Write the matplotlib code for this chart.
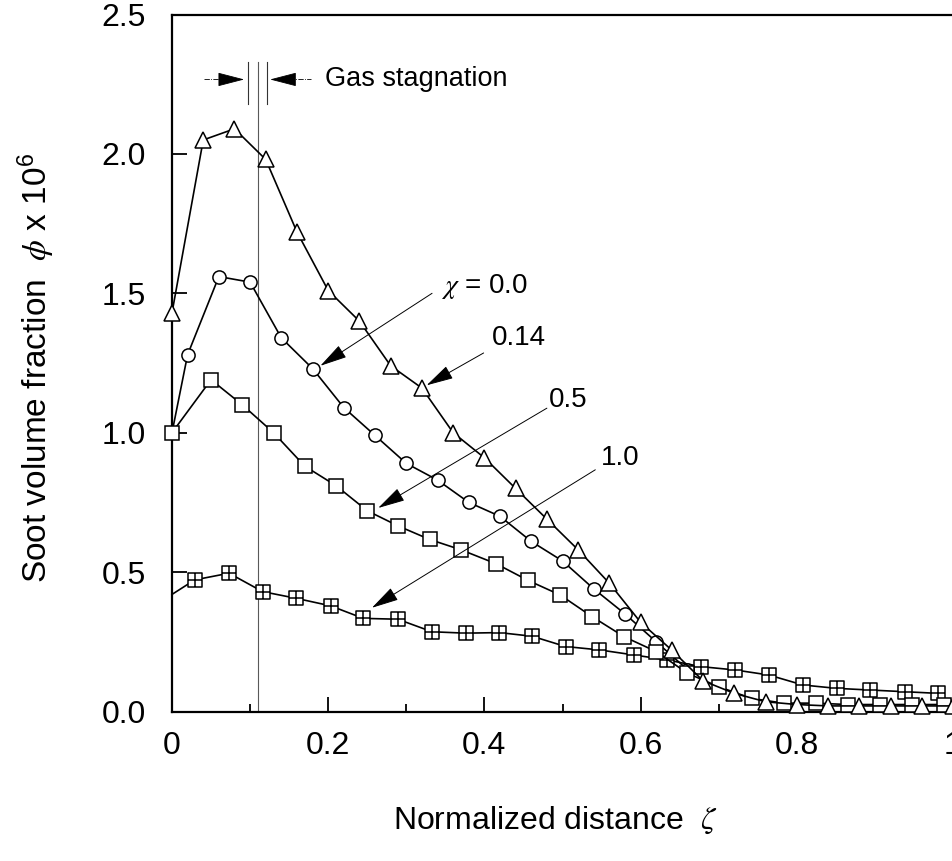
import matplotlib
matplotlib.use("Agg")
import matplotlib.pyplot as plt
from matplotlib.path import Path
from matplotlib.patches import FancyArrowPatch

plt.rcParams['font.family'] = ['Liberation Sans', 'DejaVu Sans']
plt.rcParams['mathtext.fontset'] = 'custom'
plt.rcParams['mathtext.rm'] = 'Liberation Sans'
plt.rcParams['mathtext.it'] = 'STIXGeneral:italic'

# soot volume fraction profiles (phi x 1e6) vs normalized distance zeta
# chi = 0.0 (circles)
x_chi00 = [0.00, 0.02, 0.06, 0.10, 0.14, 0.18, 0.22, 0.26, 0.30, 0.34, 0.38, 0.42, 0.46,
           0.50, 0.54, 0.58, 0.62, 0.66]
y_chi00 = [1.00, 1.28, 1.56, 1.54, 1.34, 1.23, 1.09, 0.99, 0.89, 0.83, 0.75, 0.70, 0.61,
           0.54, 0.44, 0.35, 0.25, 0.15]

# chi = 0.14 (triangles)
x_chi014 = [0.00, 0.04, 0.08, 0.12, 0.16, 0.20, 0.24, 0.28, 0.32, 0.36, 0.40, 0.44, 0.48,
            0.52, 0.56, 0.60, 0.64, 0.68, 0.72, 0.76, 0.80, 0.84, 0.88, 0.92, 0.96, 1.00]
y_chi014 = [1.43, 2.05, 2.09, 1.98, 1.72, 1.51, 1.40, 1.24, 1.16, 1.00, 0.91, 0.80, 0.69,
            0.58, 0.46, 0.32, 0.22, 0.11, 0.065, 0.035, 0.025, 0.02, 0.02, 0.02, 0.02, 0.02]

# chi = 0.5 (open squares)
x_chi05 = [0.00, 0.05, 0.09, 0.13, 0.17, 0.21, 0.25, 0.29, 0.33, 0.37, 0.415, 0.456, 0.497,
           0.538, 0.579, 0.62, 0.66, 0.70, 0.742, 0.783, 0.824, 0.865, 0.906, 0.947, 0.988]
y_chi05 = [1.00, 1.19, 1.10, 1.00, 0.88, 0.81, 0.72, 0.665, 0.617, 0.58, 0.53, 0.47, 0.418,
           0.34, 0.268, 0.215, 0.137, 0.089, 0.047, 0.03, 0.03, 0.025, 0.025, 0.025, 0.025]

# chi = 1.0 (crossed squares)
x_chi10 = [0.00, 0.029, 0.073, 0.116, 0.159, 0.203, 0.245, 0.289, 0.333, 0.376, 0.419, 0.461,
           0.504, 0.547, 0.591, 0.634, 0.677, 0.721, 0.764, 0.808, 0.851, 0.894, 0.938, 0.981]
y_chi10 = [0.42, 0.472, 0.496, 0.43, 0.406, 0.379, 0.334, 0.331, 0.286, 0.281, 0.283, 0.27,
           0.233, 0.221, 0.203, 0.185, 0.161, 0.149, 0.131, 0.095, 0.083, 0.077, 0.071, 0.065]

x_ticks = [0, 0.2, 0.4, 0.6, 0.8, 1.0]
x_ticklabels = ['0', '0.2', '0.4', '0.6', '0.8', '1']
y_ticks = [0.0, 0.5, 1.0, 1.5, 2.0, 2.5]
y_ticklabels = ['0.0', '0.5', '1.0', '1.5', '2.0', '2.5']

zeta_stag = 0.11  # gas stagnation plane

# square with a cross inside
crossed_square = Path(
    [(-1, -1), (1, -1), (1, 1), (-1, 1), (-1, -1), (0, -1), (0, 1), (-1, 0), (1, 0)],
    [Path.MOVETO, Path.LINETO, Path.LINETO, Path.LINETO, Path.CLOSEPOLY,
     Path.MOVETO, Path.LINETO, Path.MOVETO, Path.LINETO])

fig = plt.figure(figsize=(9.52, 8.61), dpi=100)
ax = fig.add_axes([172 / 952, 1 - 711.5 / 861, 781 / 952, 697 / 861])

common = dict(color='black', lw=1.2, mfc='white', mec='black', mew=1.1, clip_on=False)
ax.plot(x_chi10, y_chi10, marker=crossed_square, ms=9.5, markevery=slice(1, None), zorder=3, **common)
ax.plot(x_chi00, y_chi00, marker='o', ms=9.5, markevery=slice(1, None), zorder=4, **common)
ax.plot(x_chi05, y_chi05, marker='s', ms=10.5, zorder=5, **common)
ax.plot(x_chi014, y_chi014, marker='^', ms=12, zorder=6, **common)

ax.set_xlim(0, 1)
ax.set_ylim(0, 2.5)
ax.set_xticks(x_ticks)
ax.set_xticklabels(x_ticklabels)
ax.set_xticks([0.1, 0.3, 0.5, 0.7, 0.9], minor=True)
ax.set_yticks(y_ticks)
ax.set_yticklabels(y_ticklabels)
ax.tick_params(which='major', direction='in', length=11, width=1.3, labelsize=23)
ax.tick_params(which='minor', direction='in', length=6, width=1.3)
ax.tick_params(axis='x', pad=14)
ax.tick_params(axis='y', pad=19)
for s in ax.spines.values():
    s.set_linewidth(1.6)
ax.spines['right'].set_visible(False)

# gas stagnation marker
ax.plot([zeta_stag, zeta_stag], [0, 2.33], color='0.35', lw=0.8, zorder=1)
for xs in (zeta_stag - 0.013, zeta_stag + 0.011):
    ax.plot([xs, xs], [2.18, 2.33], color='0.2', lw=0.8)
ax.plot([0.041, 0.07], [2.267, 2.267], color='black', lw=0.6, ls='-.')
ax.plot([0.15, 0.178], [2.267, 2.267], color='black', lw=0.6, ls='-.')
ax.add_patch(FancyArrowPatch((0.065, 2.267), (zeta_stag - 0.014, 2.267),
                             arrowstyle='-|>,head_length=0.85,head_width=0.22',
                             mutation_scale=20, color='black', lw=0.6))
ax.add_patch(FancyArrowPatch((0.155, 2.267), (zeta_stag + 0.012, 2.267),
                             arrowstyle='-|>,head_length=0.85,head_width=0.22',
                             mutation_scale=20, color='black', lw=0.6))
ax.text(0.196, 2.267, 'Gas stagnation', fontsize=19.5, va='center', ha='left')

# curve labels with leader arrows
labels = [(r'$\chi$ = 0.0', (0.345, 1.525), (0.333, 1.50), (0.190, 1.24)),
          ('0.14', (0.41, 1.34), (0.399, 1.286), (0.326, 1.17)),
          ('0.5', (0.482, 1.118), (0.480, 1.088), (0.264, 0.73)),
          ('1.0', (0.549, 0.91), (0.542, 0.867), (0.256, 0.372))]
for txt, tpos, start, tip in labels:
    ax.text(tpos[0], tpos[1], txt, fontsize=20, va='center', ha='left')
    ax.add_patch(FancyArrowPatch(start, tip, arrowstyle='-|>,head_length=0.85,head_width=0.22',
                                 mutation_scale=20, color='black', lw=0.7, zorder=7,
                                 shrinkA=0, shrinkB=0))

fig.text(555 / 952, 1 - 820 / 861, r'Normalized distance  $\zeta$', fontsize=23,
         ha='center', va='center')
fig.text(36 / 952, 1 - 368 / 861, r'Soot volume fraction  $\phi$ x 10$^6$', fontsize=24,
         rotation=90, ha='center', va='center')

fig.savefig('out.png', dpi=100)
